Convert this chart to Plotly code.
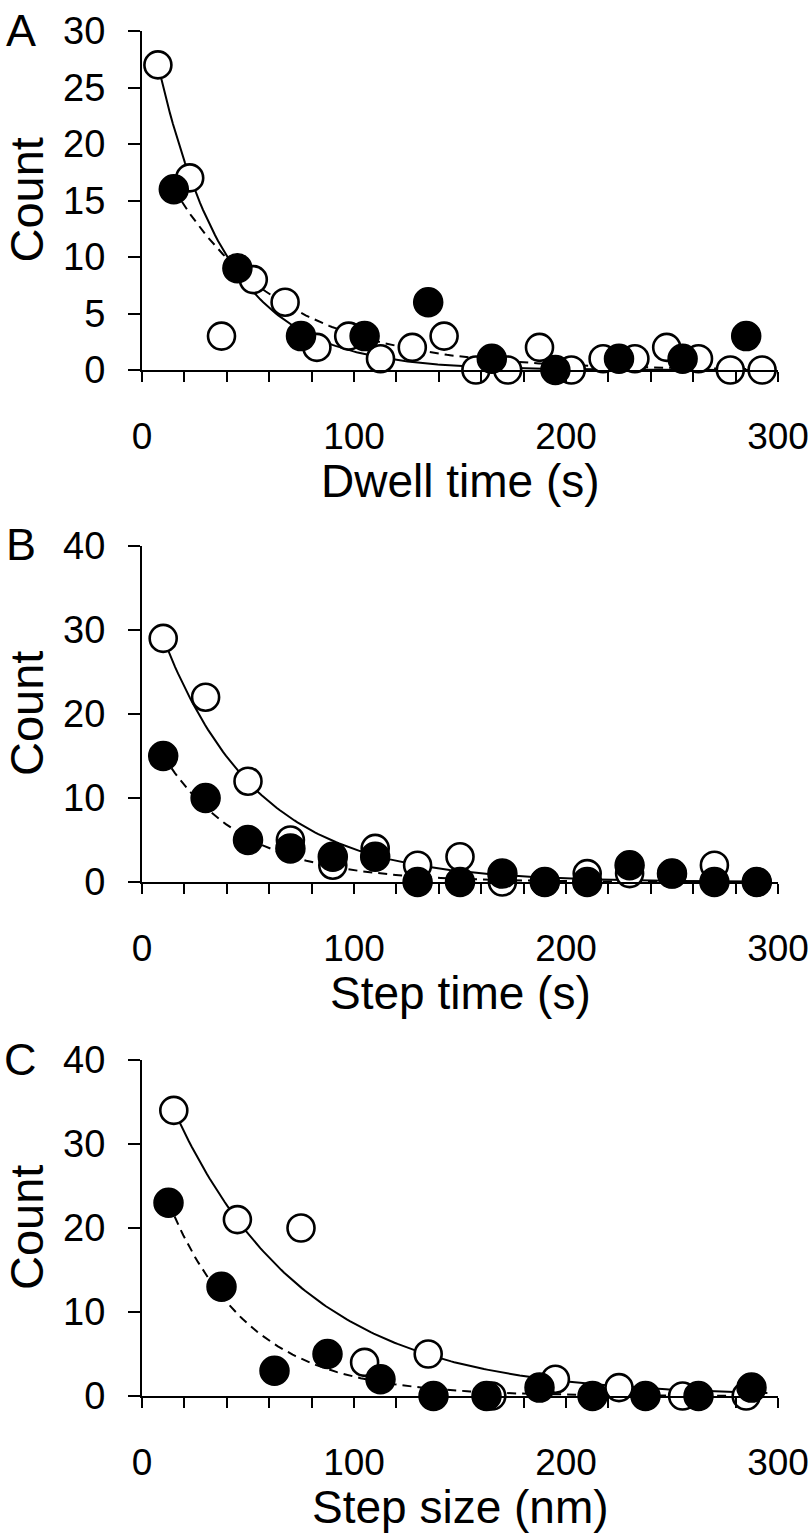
import numpy as np
import plotly.graph_objects as go

# ---------------- data ----------------
# Panel A: Dwell time
a_open_x = [7.5, 22.5, 37.5, 52.5, 67.5, 82.5, 97.5, 112.5, 127.5, 142.5,
            157.5, 172.5, 187.5, 202.5, 217.5, 232.5, 247.5, 262.5, 277.5, 292.5]
a_open_y = [27, 17, 3, 8, 6, 2, 3, 1, 2, 3, 0, 0, 2, 0, 1, 1, 2, 1, 0, 0]
a_fill_x = [15, 45, 75, 105, 135, 165, 195, 225, 255, 285]
a_fill_y = [16, 9, 3, 3, 6, 1, 0, 1, 1, 3]

# Panel B: Step time
b_x = [10, 30, 50, 70, 90, 110, 130, 150, 170, 190, 210, 230, 250, 270, 290]
b_open_y = [29, 22, 12, 5, 2, 4, 2, 3, 0, 0, 1, 1, 1, 2, 0]
b_fill_y = [15, 10, 5, 4, 3, 3, 0, 0, 1, 0, 0, 2, 1, 0, 0]

# Panel C: Step size
c_open_x = [15, 45, 75, 105, 135, 165, 195, 225, 255, 285]
c_open_y = [34, 21, 20, 4, 5, 0, 2, 1, 0, 0]
c_fill_x = [12.5, 37.5, 62.5, 87.5, 112.5, 137.5, 162.5, 187.5, 212.5, 237.5, 262.5, 287.5]
c_fill_y = [23, 13, 3, 5, 2, 0, 0, 1, 0, 0, 0, 1]

# exponential fit parameters (value at x0, decay constant, x-range)
a_open_fit = dict(y0=27, x0=7.5, tau=33, x1=290)
a_fill_fit = dict(y0=16, x0=15, tau=52, x1=285)
b_open_fit = dict(y0=29, x0=10, tau=45, x1=290)
b_fill_fit = dict(y0=15, x0=10, tau=38, x1=290)
c_open_fit = dict(y0=34, x0=15, tau=62, x1=295)
c_fill_fit = dict(y0=23, x0=12.5, tau=38, x1=290)

x_titles = ["Dwell time (s)", "Step time (s)", "Step size (nm)"]
panel_letters = ["A", "B", "C"]
y_max = [30, 40, 40]
y_dtick = [5, 10, 10]
x_tickvals = list(range(0, 301, 20))
x_ticktext = [str(v) if v % 100 == 0 else "" for v in x_tickvals]

# ---------------- layout geometry ----------------
W, H = 810, 1539
ML, MR = 142, 32
FONT = "Liberation Sans, Arial, Helvetica, sans-serif"
panels_px = [(31, 370), (546, 882), (1060, 1396)]  # (top, bottom) pixel rows


def fy(p):
    return 1 - p / H


def fxp(p):
    return (p - ML) / (W - ML - MR)


def fit_curve(p):
    xs = np.linspace(p["x0"], p["x1"], 200)
    ys = p["y0"] * np.exp(-(xs - p["x0"]) / p["tau"])
    return xs, ys


fig = go.Figure()

panel_data = [
    (a_open_x, a_open_y, a_fill_x, a_fill_y, a_open_fit, a_fill_fit),
    (b_x, b_open_y, b_x, b_fill_y, b_open_fit, b_fill_fit),
    (c_open_x, c_open_y, c_fill_x, c_fill_y, c_open_fit, c_fill_fit),
]

for i, (ox, oy, fx, fyv, ofit, ffit) in enumerate(panel_data):
    sfx = "" if i == 0 else str(i + 1)
    xa, ya = "x" + sfx, "y" + sfx
    lx, ly = fit_curve(ofit)
    fig.add_trace(go.Scatter(x=lx, y=ly, mode="lines", xaxis=xa, yaxis=ya,
                             line=dict(color="black", width=2), showlegend=False,
                             cliponaxis=False))
    lx, ly = fit_curve(ffit)
    fig.add_trace(go.Scatter(x=lx, y=ly, mode="lines", xaxis=xa, yaxis=ya,
                             line=dict(color="black", width=2, dash="9px,6px"),
                             showlegend=False, cliponaxis=False))
    fig.add_trace(go.Scatter(x=ox, y=oy, mode="markers", xaxis=xa, yaxis=ya,
                             marker=dict(symbol="circle", size=27, color="white",
                                         line=dict(color="black", width=2.6)),
                             showlegend=False, cliponaxis=False))
    fig.add_trace(go.Scatter(x=fx, y=fyv, mode="markers", xaxis=xa, yaxis=ya,
                             marker=dict(symbol="circle", size=29, color="black",
                                         line=dict(color="black", width=1.5)),
                             showlegend=False, cliponaxis=False))

layout = dict(
    template="none",
    width=W, height=H,
    margin=dict(l=ML, r=MR, t=0, b=0, autoexpand=False),
    paper_bgcolor="white", plot_bgcolor="white",
    font=dict(family=FONT, color="black"),
    showlegend=False,
)

annotations = []
for i in range(3):
    sfx = "" if i == 0 else str(i + 1)
    top, bot = panels_px[i]
    layout["xaxis" + sfx] = dict(
        domain=[0, 1], anchor="y" + sfx, range=[0, 300], automargin=False,
        tickmode="array", tickvals=x_tickvals, ticktext=x_ticktext,
        showline=True, linecolor="black", linewidth=2,
        ticks="outside", ticklen=10, tickwidth=2, tickcolor="black",
        showgrid=False, zeroline=False,
        tickfont=dict(family=FONT, size=37, color="black"),
        ticklabelstandoff=23,
    )
    layout["yaxis" + sfx] = dict(
        domain=[fy(bot), fy(top)], anchor="x" + sfx, range=[0, y_max[i]],
        automargin=False,
        tickmode="linear", tick0=0, dtick=y_dtick[i],
        showline=True, linecolor="black", linewidth=2,
        ticks="outside", ticklen=12, tickwidth=2, tickcolor="black",
        showgrid=False, zeroline=False,
        tickfont=dict(family=FONT, size=38, color="black"),
        ticklabelstandoff=15,
    )
    annotations.append(dict(
        text=x_titles[i], xref="paper", yref="paper",
        x=0.5, y=fy(bot + 111), xanchor="center", yanchor="middle",
        showarrow=False, font=dict(family=FONT, size=46, color="black")))
    annotations.append(dict(
        text="Count", xref="paper", yref="paper", textangle=-90,
        x=fxp(26), y=fy((top + bot) / 2),
        xanchor="center", yanchor="middle",
        showarrow=False, font=dict(family=FONT, size=47, color="black")))
    annotations.append(dict(
        text=panel_letters[i], xref="paper", yref="paper",
        x=fxp(21), y=fy(top - 1),
        xanchor="center", yanchor="middle",
        showarrow=False, font=dict(family=FONT, size=45, color="black")))

layout["annotations"] = annotations
fig.update_layout(**layout)

# remove the browser's default page margin so the figure sits at the page origin
fig.write_html("out.html",
               config={"displayModeBar": False},
               post_script="document.body.style.margin='0';document.body.style.overflow='hidden';")
